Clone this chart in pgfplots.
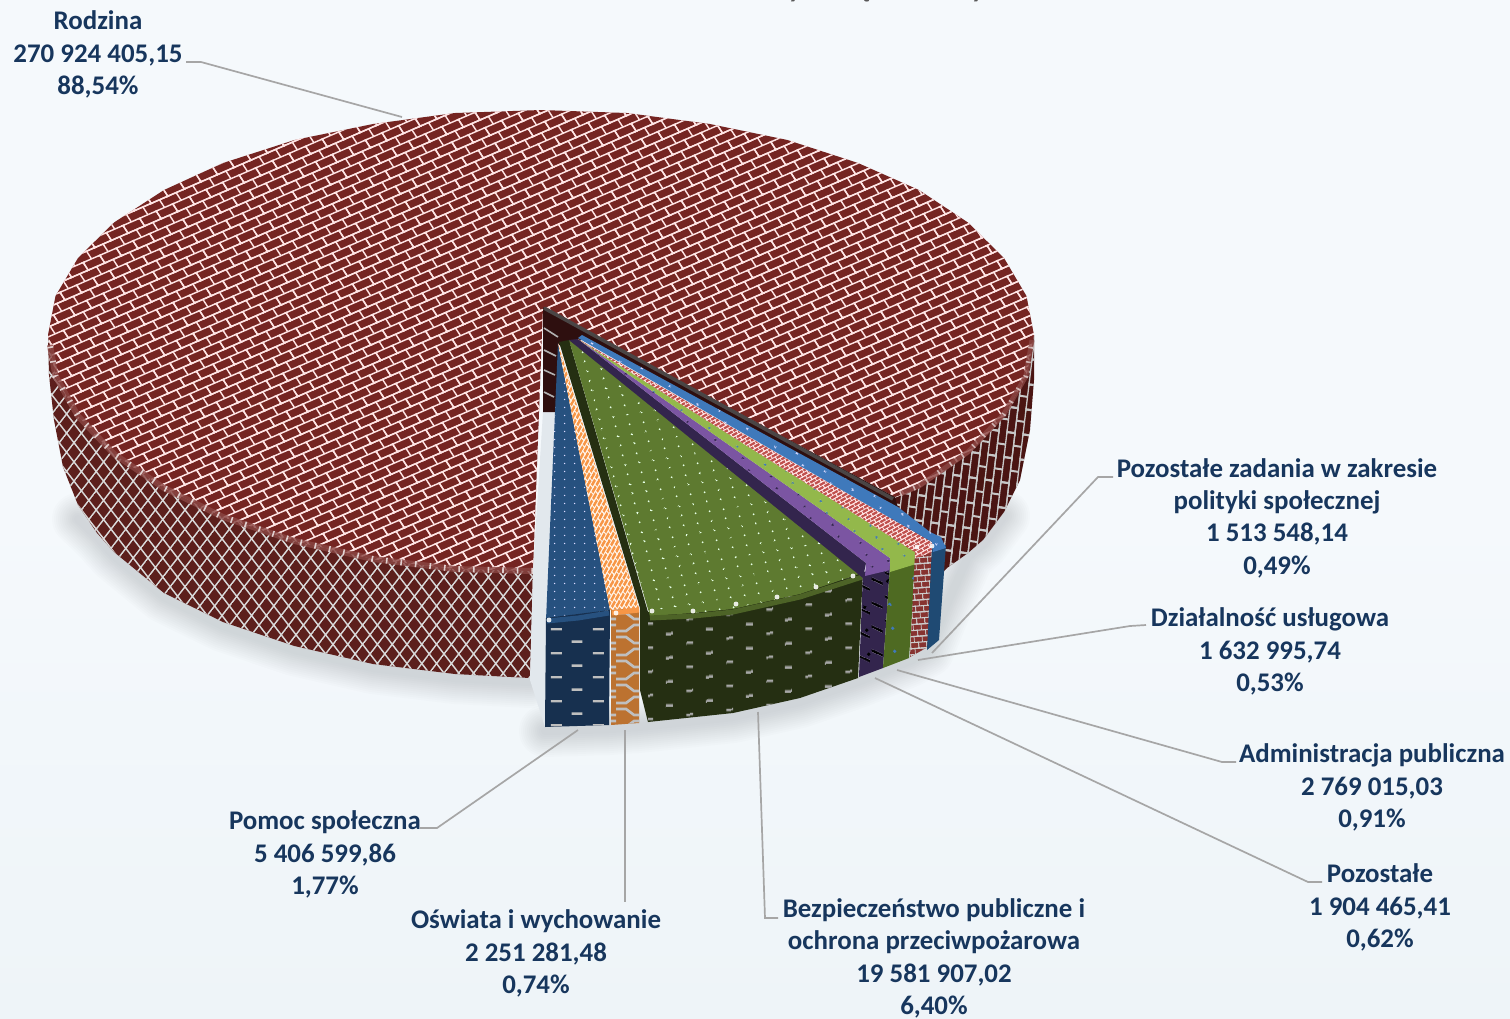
\documentclass[border=0pt]{standalone}
\usepackage{pgfplots}
\usepackage{pgfplotstable}
\usepackage{fontspec}
\pgfplotsset{compat=1.18}
\usetikzlibrary{patterns,patterns.meta}
\setmainfont{Carlito}

\definecolor{lblc}{HTML}{17365D}
\definecolor{leader}{HTML}{A6A6A6}
\definecolor{bgtop}{HTML}{F5F9FC}
\definecolor{bgbot}{HTML}{EEF4F8}
\definecolor{gapc}{HTML}{E2E8ED}
\definecolor{ridge}{HTML}{4A4545}
\definecolor{shadowc}{HTML}{7F858A}
\definecolor{mtop}{HTML}{752522}
\definecolor{mside}{HTML}{5C1F1C}
\definecolor{mside2}{HTML}{4A1513}
\definecolor{mwall}{HTML}{2E0F0F}
\definecolor{btop}{HTML}{27517F}
\definecolor{bfront}{HTML}{17304F}
\definecolor{otop}{HTML}{F79646}
\definecolor{ofront}{HTML}{BC7230}
\definecolor{gtop}{HTML}{5E7A30}
\definecolor{gfront}{HTML}{252F12}
\definecolor{ptop}{HTML}{7B55A2}
\definecolor{pfront}{HTML}{33254D}
\definecolor{ltop}{HTML}{93B84B}
\definecolor{lfront}{HTML}{4E6A22}
\definecolor{rtop}{HTML}{C0504D}
\definecolor{rfront}{HTML}{873330}
\definecolor{ctop}{HTML}{3F79BB}
\definecolor{cfront}{HTML}{1F4A73}

% brick tile, 20 x 20, sheared per use
\newcommand\mkbricks[6]{\pgfdeclarepattern{name=#1,type=uncolored,
  bottom left={\pgfpoint{-2bp}{-2bp}},top right={\pgfpoint{22bp}{22bp}},
  tile size={\pgfpoint{20bp}{20bp}},
  tile transformation={\pgftransformcm{#2}{#3}{#4}{#5}{\pgfpointorigin}},
  code={\pgfsetlinewidth{#6}
    \pgfpathmoveto{\pgfpoint{-2bp}{0bp}}\pgfpathlineto{\pgfpoint{22bp}{0bp}}
    \pgfpathmoveto{\pgfpoint{-2bp}{10bp}}\pgfpathlineto{\pgfpoint{22bp}{10bp}}
    \pgfpathmoveto{\pgfpoint{-2bp}{20bp}}\pgfpathlineto{\pgfpoint{22bp}{20bp}}
    \pgfpathmoveto{\pgfpoint{0bp}{0bp}}\pgfpathlineto{\pgfpoint{0bp}{10bp}}
    \pgfpathmoveto{\pgfpoint{20bp}{0bp}}\pgfpathlineto{\pgfpoint{20bp}{10bp}}
    \pgfpathmoveto{\pgfpoint{10bp}{10bp}}\pgfpathlineto{\pgfpoint{10bp}{20bp}}
    \pgfusepath{stroke}}}}
% dot tile
\newcommand\mkdots[6]{\pgfdeclarepattern{name=#1,type=uncolored,
  bottom left={\pgfpoint{0bp}{0bp}},top right={\pgfpoint{#2bp}{#3bp}},
  tile size={\pgfpoint{#2bp}{#3bp}},
  tile transformation={\pgftransformcm{1}{#5}{#6}{1}{\pgfpointorigin}},
  code={\pgfpathcircle{\pgfpoint{.5*#2bp}{.5*#3bp}}{#4bp}\pgfusepath{fill}}}}
% staggered dashes
\newcommand\mkdash[4]{\pgfdeclarepattern{name=#1,type=uncolored,
  bottom left={\pgfpoint{0bp}{0bp}},top right={\pgfpoint{#2bp}{24bp}},
  tile size={\pgfpoint{#2bp}{24bp}},
  tile transformation={\pgftransformcm{1}{#4}{0}{1}{\pgfpointorigin}},
  code={\pgfsetlinewidth{2.4bp}
    \pgfpathmoveto{\pgfpoint{.25*#2bp-.5*#3bp}{6bp}}\pgfpathlineto{\pgfpoint{.25*#2bp+.5*#3bp}{6bp}}
    \pgfpathmoveto{\pgfpoint{.75*#2bp-.5*#3bp}{18bp}}\pgfpathlineto{\pgfpoint{.75*#2bp+.5*#3bp}{18bp}}
    \pgfusepath{stroke}}}}
% lattice for the curved wall
\pgfdeclarepattern{name=mesh,type=uncolored,
  bottom left={\pgfpoint{-1bp}{-1bp}},top right={\pgfpoint{21bp}{21bp}},
  tile size={\pgfpoint{20bp}{20bp}},
  tile transformation={\pgftransformcm{.37}{.48}{-.37}{.48}{\pgfpointorigin}},
  code={\pgfsetlinewidth{3bp}
    \pgfpathmoveto{\pgfpoint{-1bp}{0bp}}\pgfpathlineto{\pgfpoint{21bp}{0bp}}
    \pgfpathmoveto{\pgfpoint{0bp}{-1bp}}\pgfpathlineto{\pgfpoint{0bp}{21bp}}
    \pgfusepath{stroke}}}
% zigzag for the narrow fronts
\pgfdeclarepattern{name=zig,type=uncolored,
  bottom left={\pgfpoint{-1bp}{-1bp}},top right={\pgfpoint{29bp}{25bp}},
  tile size={\pgfpoint{28bp}{24bp}},
  code={\pgfsetlinewidth{2.6bp}
    \pgfpathmoveto{\pgfpoint{0bp}{4bp}}\pgfpathlineto{\pgfpoint{10bp}{4bp}}
    \pgfpathlineto{\pgfpoint{18bp}{10bp}}\pgfpathlineto{\pgfpoint{28bp}{10bp}}
    \pgfpathmoveto{\pgfpoint{0bp}{22bp}}\pgfpathlineto{\pgfpoint{10bp}{22bp}}
    \pgfpathlineto{\pgfpoint{18bp}{16bp}}\pgfpathlineto{\pgfpoint{28bp}{16bp}}
    \pgfusepath{stroke}}}

\mkbricks{brickTop}{.83}{.36}{-.5}{.77}{1.6bp}
\mkbricks{brickSide}{.15}{1.25}{-.8}{.12}{1.6bp}
\mkbricks{brickFine}{.3}{.17}{-.17}{.3}{2.2bp}
\mkbricks{brickOrange}{.2}{.36}{-.26}{.32}{2.4bp}
\mkbricks{brickThin}{.4}{.03}{-.05}{.6}{1.8bp}
\mkdots{dotsBlue}{10}{8}{.85}{0}{0}
\mkdots{dotsGreen}{14}{10}{1.05}{.16}{-.25}
\mkdots{dotsStrip}{16}{12}{1.2}{.35}{-.5}
\mkdots{dotsDark}{26}{24}{1.9}{.1}{-.1}
\mkdash{dashWide}{42}{11}{0}
\mkdash{dashGreen}{40}{7}{.12}
\mkdash{dashSlant}{26}{11}{-.45}

\pgfplotstableread{
x y
78 515
97 533
114 552
164 593
223 622
294.5 646
373 664
455 674
530 678
}\shadowLeft
\pgfplotstableread{
x y
545 727
609 725
638 723
648 722
733 713
800 698
858 678
883 668
910 657
928 647
947 600
968 553
983 540
1004 512
}\shadowRight

\tikzset{
  face/.style n args={3}{draw=none,preaction={fill=#1},pattern=#2,pattern color=#3},
  flat/.style={draw=none,fill=#1},
  lead/.style={draw=leader,line width=1.7bp},
  lbl/.style={font=\fontsize{27}{32.5}\selectfont\bfseries,text=lblc,align=center,inner sep=0pt,yshift=-1.5bp},
  tip/.style={font=\fontsize{28}{30}\selectfont\bfseries,text=black!65!white,anchor=base,inner sep=0pt},
}

\begin{document}
\begin{tikzpicture}
\clip (0,0) rectangle (1510bp,1019bp);
\begin{axis}[
    at={(0,0)},anchor=south west,
    width=1510bp,height=1019bp,scale only axis,
    xmin=0,xmax=1510,ymin=0,ymax=1019,y dir=reverse,
    axis lines=none,no markers,clip=false,
    axis background/.style={top color=bgtop,bottom color=bgbot,middle color=bgtop},
  ]

% soft shadow under the pie
\pgfplotsinvokeforeach{52,48,44,40,36,32,28,24,20,16,12,8}{
  \addplot[draw=shadowc,opacity=.024,line width=#1bp,line join=round,line cap=round,yshift=-4bp] table[x=x,y=y] {\shadowLeft};
  \addplot[draw=shadowc,opacity=.024,line width=#1bp,line join=round,line cap=round,yshift=-4bp] table[x=x,y=y] {\shadowRight};
}

% main slice, wall
\addplot[face={mside}{mesh}{black!15!white}] coordinates {
  (533,571)(455,569)(373,559)(294.5,541)(223,517)(164,488)(114,454)(78,416)(55.5,376)(48,335)
  (49,375)(54,420)(63,467)(78,505)(97,533)(114,552)(164,593)(223,622)(294.5,646)(373,664)(455,674)(530,678)};
\addplot[face={mside2}{brickSide}{black!22!white}] coordinates {
  (890,500)(919,488)(968,454)(1004,416)(1026.5,376)(1034,335)(1034,380)(1030,430)(1020,480)
  (1004,512)(983,540)(968,553)(947,568)(925,590)(890,590)};

% main slice, top
\addplot[face={mtop}{brickTop}{white!90!red}] coordinates {
  (543,307)(895,497)(919,488)(968,454)(1004,416)(1026.5,376)(1034,335)(1026.5,296)(1004,258)(968,222.5)
  (919,190)(858,163)(787.5,140)(710,124)(627,113)(541,110)(455,113)(373,124)(294.5,140)(223,163)
  (164,190)(114,222.5)(78,258)(55.5,296)(48,335)(55.5,376)(78,416)(114,454)(164,488)(223,517)
  (294.5,541)(373,559)(455,569)(533,571)};

% rim of the main slice
\addplot[draw=mtop!85!white,line width=6bp,opacity=.8] coordinates {
  (533,571)(455,569)(373,559)(294.5,541)(223,517)(164,488)(114,454)(78,416)(55.5,376)(50,345)};
\addplot[draw=white,line width=6bp,opacity=.75,dash pattern=on 1.6bp off 13bp] coordinates {
  (533,571)(455,569)(373,559)(294.5,541)(223,517)(164,488)(114,454)(78,416)(55.5,376)(50,345)};
\addplot[draw=mtop!85!white,line width=5bp,opacity=.8] coordinates {
  (900,494)(919,486)(968,452)(1004,414)(1026,376)(1032,340)};
\addplot[draw=white,line width=5bp,opacity=.6,dash pattern=on 1.6bp off 13bp] coordinates {
  (900,494)(919,486)(968,452)(1004,414)(1026,376)(1032,340)};

% gap between the main slice and the pulled-out ones
\addplot[flat=gapc] coordinates {
  (543,412)(556,412)(546,618)(545,727)(530,680)(533,571)};

% inner wall of the main slice
\addplot[flat=mwall] coordinates {
  (543,307)(895,497)(898,508)(582,336)(580,345)(559,345)(556,412)(543,412)};
\addplot[draw=black!30!white,line width=1.6bp] coordinates {(544,328)(558,337)};
\addplot[draw=black!30!white,line width=1.6bp] coordinates {(544,350)(556,356)};
\addplot[draw=black!30!white,line width=1.6bp] coordinates {(544,370)(555,375)};
\addplot[draw=black!30!white,line width=1.6bp] coordinates {(544,392)(554,397)};
\addplot[draw=ridge,line width=3.6bp] coordinates {(544,308)(893,499)};

% Pomoc spoleczna
\addplot[face={btop}{dotsBlue}{white!85!blue}] coordinates {(558,343)(610,610)(546,620)};
\addplot[face={bfront}{dashWide}{black!25!white}] coordinates {(546,618)(610,610)(609,725)(545,727)};
\addplot[draw=btop,line width=5bp] coordinates {(547,621)(578,618)(609,613)};

% Oswiata i wychowanie
\addplot[face={otop}{brickOrange}{white!90!orange}] coordinates {(558,343)(639,608)(610,610)};
\addplot[face={ofront}{zig}{black!25!white}] coordinates {(611,610)(639,608)(639,723)(611,725)};
\addplot[draw=otop,line width=5bp] coordinates {(612,613)(639,610)};

% Bezpieczenstwo publiczne
\addplot[flat=gfront] coordinates {(559,342)(569,340)(648,612)(648,722)(640,690)(640,608)};
\addplot[face={gfront}{dashGreen}{black!35!white}] coordinates {
  (648,612)(693,613)(733,608)(800,592)(863,570)(858,678)(800,698)(733,713)(648,722)};
\addplot[face={gtop}{dotsGreen}{white!90!green}] coordinates {
  (569,340)(866,563)(862,573)(800,594)(733,609)(693,613)(650,616)};
\addplot[draw=gtop!70!gfront,line width=5bp] coordinates {(650,618)(693,616)(733,612)(800,597)(862,577)};

% Pozostale
\addplot[flat=pfront] coordinates {(569,340)(578,339)(866,563)(863,578)};
\addplot[face={pfront}{dotsDark}{black}] coordinates {(863,572)(890,566)(883,668)(859,677)};
\addplot[draw=none,pattern=dashSlant,pattern color=black] coordinates {(863,572)(890,566)(883,668)(859,677)};
\addplot[face={ptop}{dotsStrip}{pfront}] coordinates {(578,339)(890,558)(890,570)(865,576)(866,563)};

% Administracja publiczna
\addplot[face={lfront}{dotsDark}{ctop}] coordinates {(890,566)(916,558)(909,658)(883,668)};
\addplot[face={ltop}{dotsStrip}{ctop}] coordinates {(578,339)(915,552)(916,564)(890,572)(890,558)};

% Dzialalnosc uslugowa
\addplot[face={rfront}{brickThin}{black!20!white}] coordinates {(915,553)(932,549)(928,647)(910,657)};
\addplot[face={rtop}{brickFine}{white!90!red}] coordinates {(578,339)(932,542)(933,552)(915,558)(915,552)};

% Pozostale zadania
\addplot[flat=cfront] coordinates {(932,547)(946,545)(939,640)(927,650)};
\addplot[face={ctop}{dotsStrip}{white!85!blue}] coordinates {(578,338)(582,335)(898,507)(930,532)(941,537)(946,548)(933,552)(932,542)};

% highlights on the bevels
\addplot[only marks,color=white,mark=*,mark size=2.2bp,opacity=.85] coordinates {
  (549,620)(616,613)(652,611)(693,611)(736,604)(777,597)(816,587)(853,576)(917,547)(932,546)};

% leader lines
\addplot[lead] coordinates {(186,62)(201,62)(402,117)};
\addplot[lead] coordinates {(1113,477)(1098,477)(932,653)};
\addplot[lead] coordinates {(1146,625)(1130,626)(918,660)};
\addplot[lead] coordinates {(1236,762)(1222,762)(897,670)};
\addplot[lead] coordinates {(1322,882)(1308,882)(875,678)};
\addplot[lead] coordinates {(778,918)(765,918)(758,712)};
\addplot[lead] coordinates {(625,730)(625,902)};
\addplot[lead] coordinates {(420,828)(437,828)(578,730)};

% labels
\node[lbl] at (axis cs:98,53) {Rodzina\\270 924 405,15\\88,54\%};
\node[lbl] at (axis cs:1277,516.5) {Pozostałe zadania w zakresie\\polityki społecznej\\1 513 548,14\\0,49\%};
\node[lbl] at (axis cs:1270,650) {Działalność usługowa\\1 632 995,74\\0,53\%};
\node[lbl] at (axis cs:1372,786) {Administracja publiczna\\2 769 015,03\\0,91\%};
\node[lbl] at (axis cs:1380,906) {Pozostałe\\1 904 465,41\\0,62\%};
\node[lbl] at (axis cs:934,957) {Bezpieczeństwo publiczne i\\ochrona przeciwpożarowa\\19 581 907,02\\6,40\%};
\node[lbl] at (axis cs:536,952) {Oświata i wychowanie\\2 251 281,48\\0,74\%};
\node[lbl] at (axis cs:325,853) {Pomoc społeczna\\5 406 599,86\\1,77\%};

% tips of the title's descenders, which the crop cuts off
\node[tip] at (axis cs:795,-3) {y};
\node[tip] at (axis cs:866,-3) {ę};
\node[tip] at (axis cs:978,-3) {y};
\end{axis}
\end{tikzpicture}
\end{document}
